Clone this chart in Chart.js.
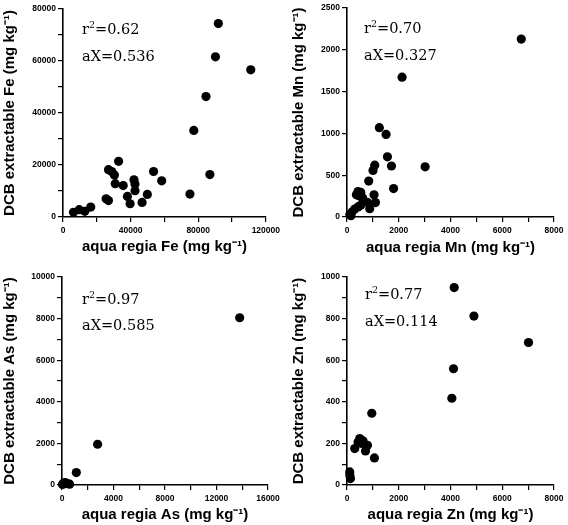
<!DOCTYPE html>
<html>
<head>
<meta charset="utf-8">
<script src="https://cdn.jsdelivr.net/npm/chart.js@4.4.1/dist/chart.umd.min.js"></script>
<style>
    html, body { margin: 0; padding: 0; background: #fff; }
    #figure { position: relative; width: 568px; height: 525px; overflow: hidden; }
    .panel { position: absolute; }
    .panel canvas { display: block; }
</style>
</head>
<body>
<div id="figure">
    <div class="panel" style="left:0;top:0"><canvas id="chart-fe" width="284" height="262"></canvas></div>
    <div class="panel" style="left:284px;top:0"><canvas id="chart-mn" width="284" height="262"></canvas></div>
    <div class="panel" style="left:0;top:262px"><canvas id="chart-as" width="284" height="263"></canvas></div>
    <div class="panel" style="left:284px;top:262px"><canvas id="chart-zn" width="284" height="263"></canvas></div>
</div>
<script>
// aqua regia (x) vs DCB extractable (y), mg/kg
const feX = [6200, 9600, 12900, 16400, 25500, 26900, 26900, 28800, 30400, 30900, 32900, 35600, 38100, 39700,
             42000, 42600, 42600, 46800, 49900, 53600, 58400, 75100, 77400, 84600, 86900, 90200, 91900, 111100];
const feY = [1800, 2800, 2200, 3800, 7000, 6300, 18200, 17500, 16200, 12800, 21400, 12100, 7900, 5100,
             14300, 12700, 10100, 5600, 8700, 17500, 13900, 8800, 33300, 46300, 16300, 61600, 74400, 56600];

const mnX = [6735, 2129, 1250, 1510, 1563, 1718, 3019, 1072, 1006, 840, 1800, 425, 530, 363, 491,
             1045, 789, 1099, 878, 530, 425, 298, 193, 110, 150, 600];
const mnY = [2128, 1672, 1068, 988, 720, 610, 600, 620, 556, 430, 340, 305, 295, 265, 250,
             265, 175, 172, 100, 140, 120, 95, 60, 30, 15, 230];

const asX = [13800, 2766, 1111, 124, 388, 40, 590, 250];
const asY = [8042, 1958, 596, 96, 67, 30, 40, 120];

const znX = [4142, 4906, 7016, 4117, 4052, 958, 1060, 493, 621, 427, 791, 299, 714, 105, 110, 132, 560];
const znY = [949, 812, 685, 559, 417, 345, 130, 223, 212, 207, 191, 175, 164, 63, 47, 31, 200];

// labelled ticks
const feXLabels = [0, 40000, 80000, 120000];
const feYLabels = [0, 20000, 40000, 60000, 80000];
const mnXLabels = [0, 2000, 4000, 6000, 8000];
const mnYLabels = [0, 500, 1000, 1500, 2000, 2500];
const asXLabels = [0, 4000, 8000, 12000, 16000];
const asYLabels = [0, 2000, 4000, 6000, 8000, 10000];
const znXLabels = [0, 2000, 4000, 6000, 8000];
const znYLabels = [0, 200, 400, 600, 800, 1000];

// r^2 and slope per element
const feFit = ['0.62', '0.536'];
const mnFit = ['0.70', '0.327'];
const asFit = ['0.97', '0.585'];
const znFit = ['0.77', '0.114'];

(function () {
    const SUP = '\u207B\u00B9';
    const tickFont  = { family: '"Liberation Sans", Arial, sans-serif', size: 8.5, weight: 'bold' };
    const titleFont = { family: '"Liberation Sans", Arial, sans-serif', size: 15, weight: 'bold' };

    const statsPlugin = {
        id: 'fitStats',
        afterDraw(chart, args, opts) {
            if (!opts || !opts.fit) return;
            const ctx = chart.ctx;
            const big = '14.5px "DejaVu Serif", serif';
            ctx.save();
            ctx.fillStyle = '#000';
            ctx.textBaseline = 'alphabetic';
            ctx.textAlign = 'left';
            let x = opts.x;
            ctx.font = big;
            ctx.fillText('r', x, opts.y1);
            x += ctx.measureText('r').width;
            ctx.font = '9.5px "DejaVu Serif", serif';
            ctx.fillText('2', x, opts.y1 - 6);
            x += ctx.measureText('2').width;
            ctx.font = big;
            ctx.fillText('=' + opts.fit[0], x, opts.y1);
            ctx.fillText('aX=' + opts.fit[1], opts.x, opts.y2);
            ctx.restore();
        }
    };

    function onlyLabels(list) {
        return value => list.includes(value) ? String(value) : '';
    }

    function axisStyle() {
        return {
            grid:   { drawOnChartArea: false, drawTicks: true, tickLength: 5, color: '#000', lineWidth: 1.2 },
            border: { color: '#000', width: 1.6 },
        };
    }

    function makePanel(p) {
        const canvas = document.getElementById(p.id);
        const W = canvas.width, H = canvas.height;
        const points = p.xs.map((x, i) => ({ x: x, y: p.ys[i] }));

        return new Chart(canvas, {
            type: 'scatter',
            data: {
                datasets: [{
                    data: points,
                    pointRadius: 4.6,
                    pointHoverRadius: 4.6,
                    backgroundColor: '#000',
                    borderColor: '#000',
                    borderWidth: 0,
                    clip: false,
                }],
            },
            options: {
                responsive: false,
                animation: false,
                devicePixelRatio: 1,
                layout: { padding: { left: 0, right: W - p.area.right, top: p.area.top, bottom: 0 } },
                plugins: {
                    legend:  { display: false },
                    tooltip: { enabled: false },
                    fitStats: { fit: p.fit, x: p.text[0], y1: p.text[1], y2: p.text[2] },
                },
                scales: {
                    x: {
                        type: 'linear',
                        min: p.xLabels[0],
                        max: p.xLabels[p.xLabels.length - 1],
                        ticks: {
                            stepSize: p.xMinor, autoSkip: false, maxRotation: 0, padding: 4,
                            color: '#000', font: tickFont, callback: onlyLabels(p.xLabels),
                        },
                        ...axisStyle(),
                        title: {
                            display: true, text: p.xTitle, color: '#000', font: titleFont,
                            padding: { top: 0, bottom: p.xTitlePad },
                        },
                        afterFit: s => { s.height = H - p.area.bottom; },
                    },
                    y: {
                        type: 'linear',
                        min: p.yLabels[0],
                        max: p.yLabels[p.yLabels.length - 1],
                        ticks: {
                            stepSize: p.yMinor, autoSkip: false, padding: 2,
                            color: '#000', font: tickFont, callback: onlyLabels(p.yLabels),
                        },
                        ...axisStyle(),
                        title: {
                            display: true, text: p.yTitle, color: '#000', font: titleFont,
                            padding: { top: p.yTitlePad, bottom: 0 },
                        },
                        afterFit: s => { s.width = p.area.left; },
                    },
                },
            },
            plugins: [statsPlugin],
        });
    }

    makePanel({
        id: 'chart-fe', xs: feX, ys: feY, fit: feFit,
        xLabels: feXLabels, yLabels: feYLabels, xMinor: 20000, yMinor: 10000,
        xTitle: 'aqua regia Fe (mg kg' + SUP + ')', yTitle: 'DCB extractable Fe (mg kg' + SUP + ')',
        area: { left: 63, right: 269, top: 9, bottom: 217 },
        xTitlePad: 6, yTitlePad: 1, text: [82, 34, 61],
    });

    makePanel({
        id: 'chart-mn', xs: mnX, ys: mnY, fit: mnFit,
        xLabels: mnXLabels, yLabels: mnYLabels, xMinor: 1000, yMinor: 500,
        xTitle: 'aqua regia Mn (mg kg' + SUP + ')', yTitle: 'DCB extractable Mn (mg kg' + SUP + ')',
        area: { left: 63, right: 270, top: 8, bottom: 217 },
        xTitlePad: 5, yTitlePad: 6, text: [80, 33, 60],
    });

    makePanel({
        id: 'chart-as', xs: asX, ys: asY, fit: asFit,
        xLabels: asXLabels, yLabels: asYLabels, xMinor: 2000, yMinor: 1000,
        xTitle: 'aqua regia As (mg kg' + SUP + ')', yTitle: 'DCB extractable As (mg kg' + SUP + ')',
        area: { left: 62, right: 268, top: 15, bottom: 223 },
        xTitlePad: 1, yTitlePad: 1, text: [82, 42, 68],
    });

    makePanel({
        id: 'chart-zn', xs: znX, ys: znY, fit: znFit,
        xLabels: znXLabels, yLabels: znYLabels, xMinor: 1000, yMinor: 100,
        xTitle: 'aqua regia Zn (mg kg' + SUP + ')', yTitle: 'DCB extractable Zn (mg kg' + SUP + ')',
        area: { left: 63, right: 270, top: 15, bottom: 223 },
        xTitlePad: 1, yTitlePad: 6, text: [81, 37, 64],
    });
})();
</script>
</body>
</html>
